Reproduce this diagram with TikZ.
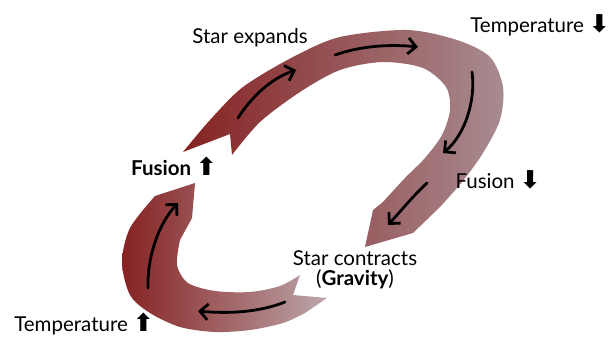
\documentclass[tikz,border=0pt]{standalone}
\usepackage{fontspec}
\setmainfont{Lato}
\newfontfamily\symfont{DejaVu Sans}
\usetikzlibrary{arrows.meta, positioning}

\definecolor{emberred}{RGB}{134,34,34}
\definecolor{dustrose}{RGB}{168,140,145}
\definecolor{palerose}{RGB}{188,166,170}

\newcommand{\upmark}{{\symfont\bfseries\scalebox{1.2}{⬆}}}
\newcommand{\downmark}{{\symfont\bfseries\scalebox{1.2}{⬇}}}

\begin{document}
\begin{tikzpicture}[
    x=1pt, y=-1pt,
    lbl/.style={font=\fontsize{20.5}{24}\selectfont, inner sep=0pt},
    flow/.style={line width=2.8pt, line cap=round,
                 -{Straight Barb[length=8pt, width=16pt]}}
  ]

  \useasboundingbox (0,0) rectangle (611,339);

  % upper band: from fusion up round to star contracts
  \shade[left color=emberred, right color=dustrose]
    (183,152) -- plot[smooth] coordinates {(183,152) (210,120) (243,87) (293,57)
      (340,37) (407,30) (457,40) (490,57) (503,87) (500,120) (483,153)
      (462,182) (440,207)}
    -- (413,233) -- (365,247) -- (373,210)
    -- plot[smooth] coordinates {(383,202) (405,178) (425,158) (442,135)
      (450,110) (446,87) (423,68) (383,62) (340,70) (300,92) (260,122) (232,155)}
    -- (230,134) -- cycle;

  % lower band: from star contracts back to fusion up
  \shade[left color=emberred, right color=palerose]
    (195,183) -- (192,218)
    -- plot[smooth] coordinates {(180,240) (177,265) (188,283) (215,291)
      (250,292) (280,286) (300,275)}
    -- (293,295) -- (327,298)
    -- plot[smooth] coordinates {(305,313) (283,323) (250,330) (215,332)
      (180,327) (150,313) (130,295) (122,262) (130,228) (155,196)}
    -- cycle;

  % arrows along the bands
  \draw[flow] (238,118) .. controls (252,96) and (272,78) .. (296,70);
  \draw[flow] (335,55) .. controls (360,46) and (390,44) .. (418,47);
  \draw[flow] (472,72) .. controls (476,100) and (465,135) .. (443,153);
  \draw[flow] (427,183) .. controls (412,197) and (400,212) .. (388,225);
  \draw[flow] (285,302) .. controls (260,312) and (230,314) .. (198,311);
  \draw[flow] (148,288) .. controls (147,255) and (160,222) .. (178,203);

  % labels
  \node[lbl] (expands) at (250,38) {Star expands};
  \node[lbl, anchor=east] (tempdown) at (610,25) {Temperature \downmark};
  \node[lbl, font=\fontsize{20.5}{24}\selectfont\bfseries] (fusionup) at (174,166) {Fusion \upmark};
  \node[lbl] (fusiondown) at (498,180) {Fusion \downmark};
  \node[lbl] (contracts) at (355,258) {Star contracts};
  \node[lbl, below=4pt of contracts] (gravity) {(\textbf{Gravity})};
  \node[lbl] (tempup) at (84,324) {Temperature \upmark};

\end{tikzpicture}
\end{document}
